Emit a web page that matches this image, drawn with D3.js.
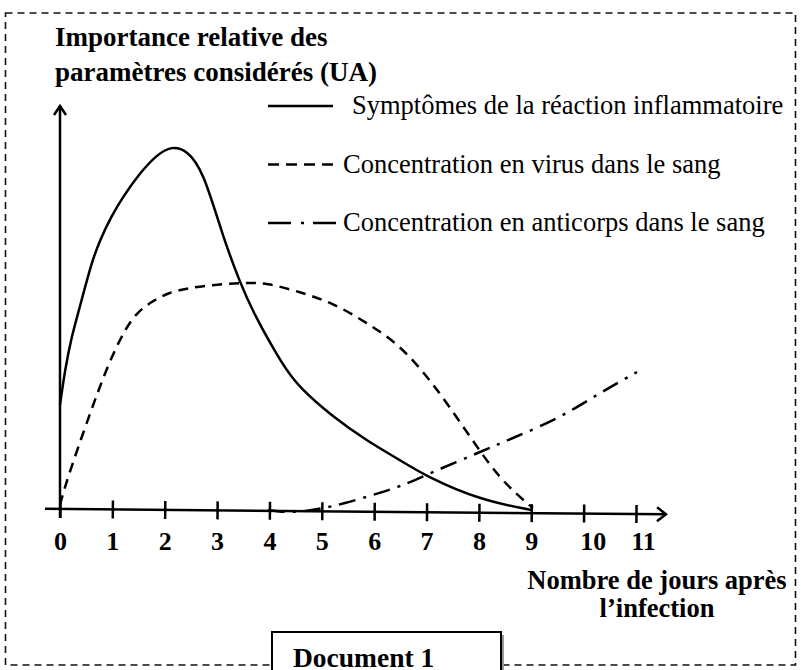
<!DOCTYPE html>
<meta charset="utf-8">

<head>
    <title>Document 1</title>
    <script type="text/javascript" src="https://d3js.org/d3.v7.min.js"></script>
    <style>
        body { margin: 0; background: #fff; }
        text { font-family: "Liberation Serif", "Times New Roman", serif; fill: #000; }
    </style>
</head>

<body>
    <svg></svg>

    <script>
        // values: [day, relative importance]
        var days = [0, 1, 2, 3, 4, 5, 6, 7, 8, 9, 10, 11];

        var symptomes = [[0, 2.63], [0.095, 3.5], [0.22, 4.33], [0.38, 5.08], [0.6, 6.18], [0.764, 6.75],
            [0.974, 7.33], [1.203, 7.83], [1.528, 8.43], [1.847, 8.88], [2.133, 9.1], [2.42, 9.0],
            [2.73, 8.5], [3.11, 6.83], [3.44, 5.68], [3.69, 4.93], [4.26, 3.6], [4.58, 3.05],
            [5.21, 2.33], [5.86, 1.73], [6.49, 1.25], [7.01, 0.83], [8.02, 0.25], [9.0, 0]];

        var virus = [[0, 0.13], [0.13, 0.75], [0.573, 2.42], [0.86, 3.43], [1.05, 4.0], [1.24, 4.5],
            [1.46, 4.93], [1.75, 5.21], [2.06, 5.43], [2.44, 5.55], [2.96, 5.63], [3.47, 5.68],
            [3.95, 5.68], [4.58, 5.45], [5.21, 5.18], [5.86, 4.68], [6.49, 4.13], [7.12, 3.18],
            [7.77, 1.95], [8.4, 0.75], [9.03, 0.05]];

        var anticorps = [[3.97, 0], [4.2, -0.05], [4.58, -0.05], [4.97, 0.03], [5.4, 0.15], [5.98, 0.38],
            [6.49, 0.58], [7.12, 0.95], [8.02, 1.45], [8.65, 1.8], [9.55, 2.3], [10.31, 2.93], [11.02, 3.45]];

        var legendLabels = ["Symptômes de la réaction inflammatoire",
            "Concentration en virus dans le sang",
            "Concentration en anticorps dans le sang"];
        var yTitle = ["Importance relative des", "paramètres considérés (UA)"];
        var xTitle = ["Nombre de jours après", "l’infection"];
        var docLabel = "Document 1";

        w = 801;
        h = 670;

        var svg = d3.select("svg")
            .attr("width", w)
            .attr("height", h)

        var x = d3.scaleLinear().domain([0, 11]).range([60, 636]);
        var y = d3.scaleLinear().domain([0, 10]).range([510, 110]);

        // dashed frame round the document
        svg.append("rect")
            .attr("x", 5.5).attr("y", 13)
            .attr("width", 790).attr("height", 652)
            .attr("fill", "none")
            .attr("stroke", "#111")
            .attr("stroke-width", 1.6)
            .attr("stroke-dasharray", "7,5")

        // y title
        svg.append("g").selectAll("text")
            .data(yTitle)
            .enter().append("text")
            .attr("x", 55)
            .attr("y", function (d, i) { return 46 + i * 35 })
            .style("font-size", "27px")
            .style("font-weight", "bold")
            .text(function (d) { return d })

        // y axis with arrow
        svg.append("line")
            .attr("x1", x(0)).attr("x2", x(0))
            .attr("y1", 518).attr("y2", 106)
            .attr("stroke", "#000").attr("stroke-width", 2.5)
        svg.append("path")
            .attr("d", "M" + (x(0) - 6) + ",115 L" + x(0) + ",106 L" + (x(0) + 6) + ",115")
            .attr("fill", "none").attr("stroke", "#000").attr("stroke-width", 2.5)

        // x axis: line + ticks slightly tilted like the scan
        var xg = svg.append("g")
            .attr("transform", "translate(0,509) rotate(0.5," + x(0) + ",0)")
        xg.append("line")
            .attr("x1", 45).attr("x2", 666)
            .attr("y1", 0).attr("y2", 0)
            .attr("stroke", "#000").attr("stroke-width", 2.5)
        xg.append("path")
            .attr("d", "M657,-7 L666,0 L657,7")
            .attr("fill", "none").attr("stroke", "#000").attr("stroke-width", 2.5)
        xg.append("g")
            .call(d3.axisBottom(x).tickValues(days).tickSize(9).tickFormat(""))
            .call(function (g) { g.select(".domain").remove() })
            .selectAll(".tick line")
            .attr("y1", -9).attr("y2", 9)
            .attr("stroke", "#000").attr("stroke-width", 2.5)

        // tick labels
        svg.append("g")
            .attr("transform", "translate(0,509)")
            .call(d3.axisBottom(x).tickValues(days).tickSize(0).tickFormat(d3.format("d")))
            .call(function (g) { g.select(".domain").remove() })
            .selectAll("text")
            .attr("y", 41).attr("dy", 0)
            .attr("dx", function (d) { return d == 10 ? 9 : (d == 11 ? 7 : 0) })
            .style("font-family", "'Liberation Serif', 'Times New Roman', serif")
            .style("font-size", "26px")
            .style("font-weight", "bold")
            .attr("fill", "#000")

        // x title
        svg.append("g").selectAll("text")
            .data(xTitle)
            .enter().append("text")
            .attr("x", 657)
            .attr("y", function (d, i) { return 589 + i * 28 })
            .attr("text-anchor", "middle")
            .style("font-size", "26.5px")
            .style("font-weight", "bold")
            .text(function (d) { return d })

        // curves
        var line = d3.line()
            .x(function (d) { return x(d[0]) })
            .y(function (d) { return y(d[1]) })
            .curve(d3.curveBasis)

        var styles = ["none", "10,7", "17,8,3,8"];
        var series = [symptomes, virus, anticorps];

        svg.append("g").selectAll("path")
            .data(series)
            .enter().append("path")
            .attr("d", line)
            .attr("fill", "none")
            .attr("stroke", "#000")
            .attr("stroke-width", 2.5)
            .attr("stroke-dasharray", function (d, i) { return styles[i] })

        // legend
        var legend = svg.append("g").attr("id", "legend")
        var legendDash = ["none", "11,7", "23,10,3,9"];
        for (i = 0; i < legendLabels.length; i++) {
            var ly = 106 + i * 58.5;
            legend.append("line")
                .attr("x1", 268).attr("x2", i == 2 ? 340 : 333)
                .attr("y1", ly).attr("y2", ly)
                .attr("stroke", "#000").attr("stroke-width", 2.5)
                .attr("stroke-dasharray", legendDash[i])
            legend.append("text")
                .attr("x", i == 0 ? 352 : 343)
                .attr("y", ly + 8)
                .style("font-size", "26.5px")
                .text(legendLabels[i])
        }

        // "Document 1" box sitting on the bottom border
        svg.append("rect")
            .attr("x", 275).attr("y", 635)
            .attr("width", 229).attr("height", 60)
            .attr("fill", "#9a9a9a")
        svg.append("rect")
            .attr("x", 272).attr("y", 632)
            .attr("width", 229).attr("height", 60)
            .attr("fill", "#fff")
            .attr("stroke", "#000").attr("stroke-width", 2)
        svg.append("text")
            .attr("x", 293).attr("y", 667)
            .style("font-size", "27.5px")
            .style("font-weight", "bold")
            .text(docLabel)

    </script>

</body>

</html>
